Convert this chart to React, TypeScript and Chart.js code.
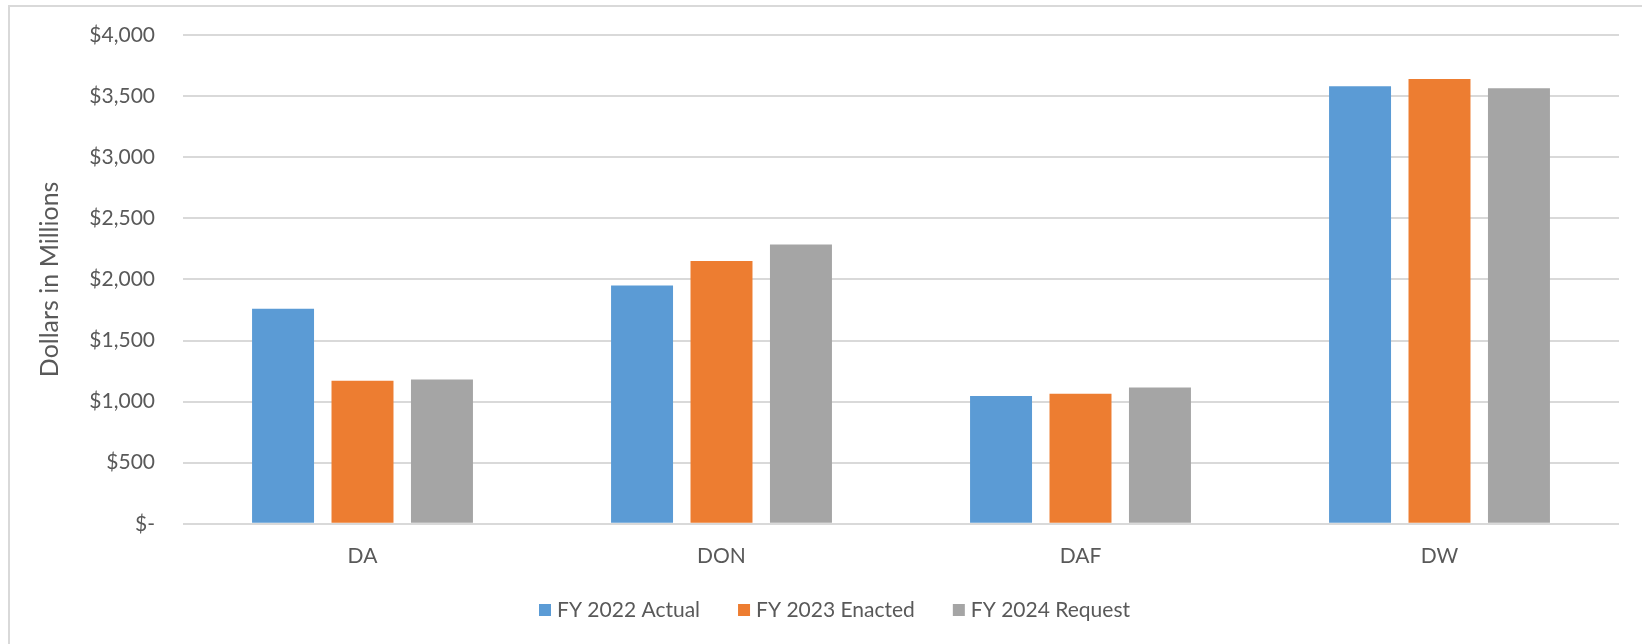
import React, { useEffect, useRef } from "react";
import { Chart, registerables } from "chart.js";

Chart.register(...registerables);

const categories = ["DA", "DON", "DAF", "DW"];
const seriesNames = ["FY 2022 Actual", "FY 2023 Enacted", "FY 2024 Request"];
const fy2022Actual = [1760, 1950, 1045, 3580];
const fy2023Enacted = [1170, 2150, 1065, 3640];
const fy2024Request = [1180, 2285, 1115, 3565];
const seriesColors = ["#5B9BD5", "#ED7D31", "#A5A5A5"];
const yTicks = [0, 500, 1000, 1500, 2000, 2500, 3000, 3500, 4000];

const FONT = "Lato, 'Open Sans', sans-serif";
const TEXT = "#595959";

const fmt = (v: number) => (v === 0 ? "$-" : "$" + v.toLocaleString("en-US"));

const legendPlugin = {
  id: "customLegend",
  afterDraw(chart: any) {
    const ctx = chart.ctx;
    ctx.save();
    ctx.font = `21px ${FONT}`;
    ctx.textBaseline = "middle";
    ctx.textAlign = "left";
    let x = 529;
    const y = 603;
    chart.data.datasets.forEach((ds: any) => {
      ctx.fillStyle = ds.backgroundColor;
      ctx.fillRect(x, y - 6, 12, 12);
      x += 18;
      ctx.fillStyle = TEXT;
      ctx.fillText(ds.label, x, y);
      x += ctx.measureText(ds.label).width + 38;
    });
    ctx.restore();
  },
};

export default function App() {
  const ref = useRef<HTMLCanvasElement | null>(null);
  useEffect(() => {
    if (!ref.current) return;
    const data = [fy2022Actual, fy2023Enacted, fy2024Request];
    const chart = new Chart(ref.current, {
      type: "bar",
      data: {
        labels: categories,
        datasets: seriesNames.map((name, i) => ({
          label: name,
          data: data[i],
          backgroundColor: seriesColors[i],
          categoryPercentage: 0.664,
          barPercentage: 0.78,
        })),
      },
      options: {
        animation: false,
        responsive: true,
        maintainAspectRatio: false,
        layout: { padding: { top: 28, right: 23, bottom: 55, left: 0 } },
        plugins: {
          legend: { display: false },
          tooltip: { enabled: false },
        },
        scales: {
          x: {
            grid: { display: false, drawTicks: false },
            border: { display: false },
            ticks: { color: TEXT, font: { family: FONT, size: 21 }, padding: 20 },
          },
          y: {
            min: 0,
            max: 4000,
            afterBuildTicks: (scale: any) => {
              scale.ticks = yTicks.map((v) => ({ value: v }));
            },
            afterFit: (scale: any) => {
              scale.width = 173;
              scale.paddingTop = 0;
            },
            grid: { color: "#D9D9D9", lineWidth: 2, drawTicks: false },
            border: { display: false },
            ticks: {
              color: TEXT,
              font: { family: FONT, size: 21 },
              padding: 28,
              callback: (v: any) => fmt(Number(v)),
            },
            title: {
              display: true,
              text: "Dollars in Millions",
              color: TEXT,
              font: { family: FONT, size: 25 },
              padding: { top: 25, bottom: 0 },
            },
          },
        },
      },
      plugins: [legendPlugin],
    });
    return () => chart.destroy();
  }, []);

  return (
    <div
      style={{
        position: "absolute",
        left: 8,
        top: 5,
        width: 1634,
        height: 639,
        borderLeft: "2px solid #D9D9D9",
        borderTop: "2px solid #D9D9D9",
        boxSizing: "border-box",
        background: "#fff",
      }}
    >
      <div style={{ position: "relative", width: "100%", height: "100%" }}>
        <canvas ref={ref} />
      </div>
    </div>
  );
}
